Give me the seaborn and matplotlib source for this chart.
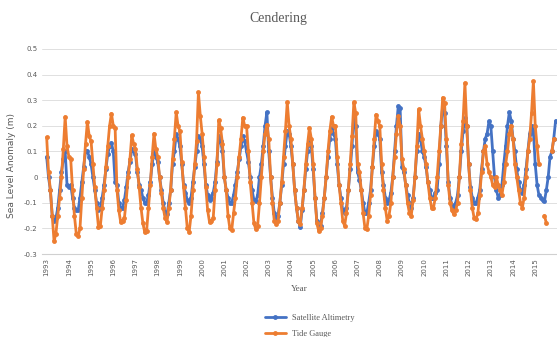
import pandas as pd
import matplotlib
matplotlib.use('Agg')
import matplotlib.pyplot as plt
import seaborn as sns

nan = float('nan')

# monthly sea level anomaly (m), Jan..Dec for each year
years = list(range(1993, 2016))
months = list(range(12))

satellite = [
    0.08, 0.00, -0.05, -0.15, -0.17, -0.16, -0.12, -0.05, 0.02, 0.07, 0.10, -0.03,   # 1993
    -0.04, -0.03, -0.08, -0.12, -0.13, -0.13, -0.08, -0.02, 0.04, 0.10, 0.10, 0.08,  # 1994
    0.05, 0.00, -0.05, -0.10, -0.13, -0.12, -0.08, -0.03, 0.03, 0.09, 0.12, 0.134,   # 1995
    0.10, -0.02, -0.03, -0.10, -0.12, -0.12, -0.09, -0.04, 0.02, 0.06, 0.108, 0.10,  # 1996
    0.09, 0.02, -0.03, -0.05, -0.08, -0.10, -0.10, -0.07, -0.02, 0.05, 0.10, 0.08,   # 1997
    0.06, 0.00, -0.05, -0.10, -0.14, -0.145, -0.10, -0.05, 0.05, 0.10, 0.167, 0.15,  # 1998
    0.12, 0.05, -0.03, -0.06, -0.09, -0.10, -0.08, -0.02, 0.04, 0.10, 0.16, 0.15,    # 1999
    0.12, 0.05, -0.03, -0.07, -0.09, -0.08, -0.06, -0.02, 0.06, 0.16, 0.14, 0.10,    # 2000
    0.00, -0.05, -0.08, -0.10, -0.10, -0.07, -0.03, 0.02, 0.07, 0.12, 0.16, 0.14,    # 2001
    0.10, 0.06, 0.00, -0.05, -0.09, -0.093, -0.07, 0.00, 0.05, 0.12, 0.20, 0.253,    # 2002
    0.10, 0.00, -0.08, -0.14, -0.16, -0.15, -0.10, -0.03, 0.05, 0.12, 0.18, 0.17,    # 2003
    0.12, 0.05, -0.05, -0.12, -0.17, -0.196, -0.13, -0.05, 0.03, 0.10, 0.15, 0.12,   # 2004
    0.03, -0.08, -0.17, -0.20, -0.19, -0.14, -0.08, 0.00, 0.08, 0.15, 0.19, 0.17,    # 2005
    0.15, 0.05, -0.03, -0.08, -0.13, -0.14, -0.12, -0.05, 0.03, 0.12, 0.25, 0.20,    # 2006
    0.02, -0.01, -0.05, -0.10, -0.14, -0.14, -0.10, -0.05, 0.04, 0.12, 0.18, 0.17,   # 2007
    0.15, 0.02, -0.03, -0.08, -0.10, -0.09, -0.06, 0.00, 0.10, 0.20, 0.277, 0.27,    # 2008
    0.04, 0.02, -0.03, -0.07, -0.10, -0.12, -0.08, 0.00, 0.10, 0.17, 0.15, 0.10,     # 2009
    0.08, 0.04, -0.02, -0.05, -0.08, -0.08, -0.06, -0.05, 0.05, 0.20, 0.277, 0.25,   # 2010
    0.12, -0.02, -0.08, -0.11, -0.12, -0.10, -0.07, 0.00, 0.10, 0.18, 0.23, 0.20,    # 2011
    0.05, -0.04, -0.08, -0.10, -0.10, -0.08, -0.05, 0.03, 0.10, 0.15, 0.17, 0.218,   # 2012
    0.20, 0.10, 0.00, -0.05, -0.08, -0.07, -0.03, 0.05, 0.12, 0.20, 0.253, 0.22,     # 2013
    0.15, 0.10, 0.03, -0.02, -0.05, -0.06, -0.03, 0.03, 0.10, 0.17, 0.20, 0.18,      # 2014
    0.05, -0.03, -0.07, -0.08, -0.09, -0.093, -0.05, 0.00, 0.08, 0.10, 0.15, 0.22,   # 2015
]

tide = [
    0.155, 0.02, -0.05, -0.15, -0.25, -0.22, -0.15, -0.08, 0.00, 0.11, 0.235, 0.12,  # 1993
    0.08, 0.07, -0.05, -0.15, -0.22, -0.23, -0.20, -0.08, 0.03, 0.13, 0.215, 0.16,   # 1994
    0.14, 0.05, -0.04, -0.12, -0.195, -0.19, -0.12, -0.05, 0.04, 0.12, 0.20, 0.248,  # 1995
    0.20, 0.19, -0.05, -0.13, -0.175, -0.17, -0.16, -0.09, 0.00, 0.07, 0.163, 0.13,  # 1996
    0.11, 0.03, -0.04, -0.12, -0.18, -0.215, -0.21, -0.12, -0.03, 0.08, 0.17, 0.11,  # 1997
    0.08, 0.00, -0.06, -0.12, -0.16, -0.175, -0.12, -0.05, 0.07, 0.15, 0.253, 0.20,  # 1998
    0.18, 0.06, -0.04, -0.12, -0.20, -0.213, -0.15, -0.05, 0.05, 0.14, 0.33, 0.24,   # 1999
    0.17, 0.08, -0.04, -0.13, -0.175, -0.17, -0.16, -0.05, 0.05, 0.222, 0.19, 0.13,  # 2000
    0.00, -0.05, -0.15, -0.20, -0.206, -0.14, -0.08, 0.00, 0.08, 0.15, 0.232, 0.20,  # 2001
    0.20, 0.10, -0.02, -0.10, -0.18, -0.203, -0.19, -0.10, 0.00, 0.10, 0.17, 0.205,  # 2002
    0.15, 0.00, -0.10, -0.17, -0.183, -0.17, -0.10, -0.02, 0.08, 0.18, 0.292, 0.20,  # 2003
    0.15, 0.05, -0.05, -0.12, -0.17, -0.183, -0.12, -0.05, 0.05, 0.13, 0.193, 0.15,  # 2004
    0.05, -0.08, -0.18, -0.21, -0.20, -0.15, -0.08, 0.00, 0.10, 0.18, 0.235, 0.20,   # 2005
    0.20, 0.08, -0.03, -0.10, -0.17, -0.19, -0.14, -0.05, 0.05, 0.16, 0.292, 0.25,   # 2006
    0.05, 0.02, -0.05, -0.14, -0.20, -0.203, -0.15, -0.07, 0.04, 0.15, 0.244, 0.22,  # 2007
    0.20, 0.05, -0.05, -0.12, -0.17, -0.15, -0.10, 0.00, 0.08, 0.17, 0.238, 0.20,    # 2008
    0.07, 0.03, -0.03, -0.10, -0.14, -0.15, -0.09, 0.00, 0.12, 0.264, 0.20, 0.15,    # 2009
    0.10, 0.05, -0.02, -0.08, -0.12, -0.12, -0.08, 0.00, 0.10, 0.20, 0.31, 0.29,     # 2010
    0.15, -0.03, -0.10, -0.13, -0.145, -0.13, -0.10, 0.00, 0.13, 0.22, 0.367, 0.20,  # 2011
    0.05, -0.05, -0.12, -0.16, -0.165, -0.14, -0.07, 0.02, 0.10, 0.12, 0.05, 0.02,   # 2012
    0.00, -0.03, -0.04, 0.00, -0.03, -0.05, -0.07, -0.02, 0.05, 0.10, 0.17, 0.20,    # 2013
    0.15, 0.05, 0.00, -0.05, -0.10, -0.12, -0.08, 0.00, 0.10, 0.15, 0.25, 0.374,     # 2014
    0.20, 0.12, 0.05, nan, nan, -0.15, -0.18, nan, nan, 0.10, 0.15, nan,             # 2015
]

y_ticks = [0.5, 0.4, 0.3, 0.2, 0.1, 0.0, -0.1, -0.2, -0.3]
y_tick_labels = ['0.5', '0.4', '0.3', '0.2', '0.1', '0', '-0.1', '-0.2', '-0.3']

# build long-form table
t = [y + m / 12 for y in years for m in months]
sat_df = pd.DataFrame({'t': t, 'value': satellite, 'series': 'Satellite Altimetry'})
sat_df['unit'] = 'sat'
tide_df = pd.DataFrame({'t': t, 'value': tide, 'series': 'Tide Gauge'})
# break the tide line where months are missing
tide_df['unit'] = 'tide' + tide_df['value'].isna().cumsum().astype(str)
df = pd.concat([sat_df, tide_df]).dropna(subset=['value'])

sns.set_style('white')
grey = '#595959'

fig = plt.figure(figsize=(5.57, 3.37), dpi=100)
ax = fig.add_axes([0.075, 0.246, 0.925, 0.609])

palette = {'Satellite Altimetry': '#4472C4', 'Tide Gauge': '#ED7D31'}
sns.lineplot(data=df, x='t', y='value', hue='series', units='unit',
             estimator=None, sort=False, palette=palette, marker='o',
             markersize=3.5, markeredgewidth=0, linewidth=2.0, ax=ax)

ax.set_ylim(-0.3, 0.5)
ax.set_xlim(1992.78, 2015.98)
ax.set_yticks(y_ticks)
ax.set_yticklabels(y_tick_labels, fontsize=5, color=grey)
ax.set_xticks(years)
ax.set_xticklabels([str(y) for y in years], rotation=90, fontsize=5, color=grey)
ax.tick_params(axis='both', length=0, pad=3)
ax.grid(axis='y', color='#e0e0e0', linewidth=0.7)
ax.set_axisbelow(True)
for s in ['top', 'right', 'left']:
    ax.spines[s].set_visible(False)
ax.spines['bottom'].set_color('#d0d0d0')
ax.spines['bottom'].set_linewidth(0.8)

ax.set_ylabel('Sea Level Anomaly (m)', fontsize=6.5, color=grey)
ax.yaxis.set_label_coords(-0.05, 0.43)
ax.set_xlabel('Year', fontsize=6.5, color=grey, family='Liberation Serif')
ax.xaxis.set_label_coords(0.5, -0.15)

fig.text(0.5, 0.945, 'Cendering', ha='center', va='center', fontsize=10,
         color=grey, family='Liberation Serif')

handles, labels = ax.get_legend_handles_labels()
ax.get_legend().remove()
fig.legend(handles, labels, loc='center', bbox_to_anchor=(310 / 557, 1 - 326 / 337),
           ncol=1, frameon=False, handlelength=2.5, labelspacing=0.9,
           prop={'family': 'Liberation Serif', 'size': 6}, labelcolor=grey)

fig.savefig('out.png', dpi=100)
